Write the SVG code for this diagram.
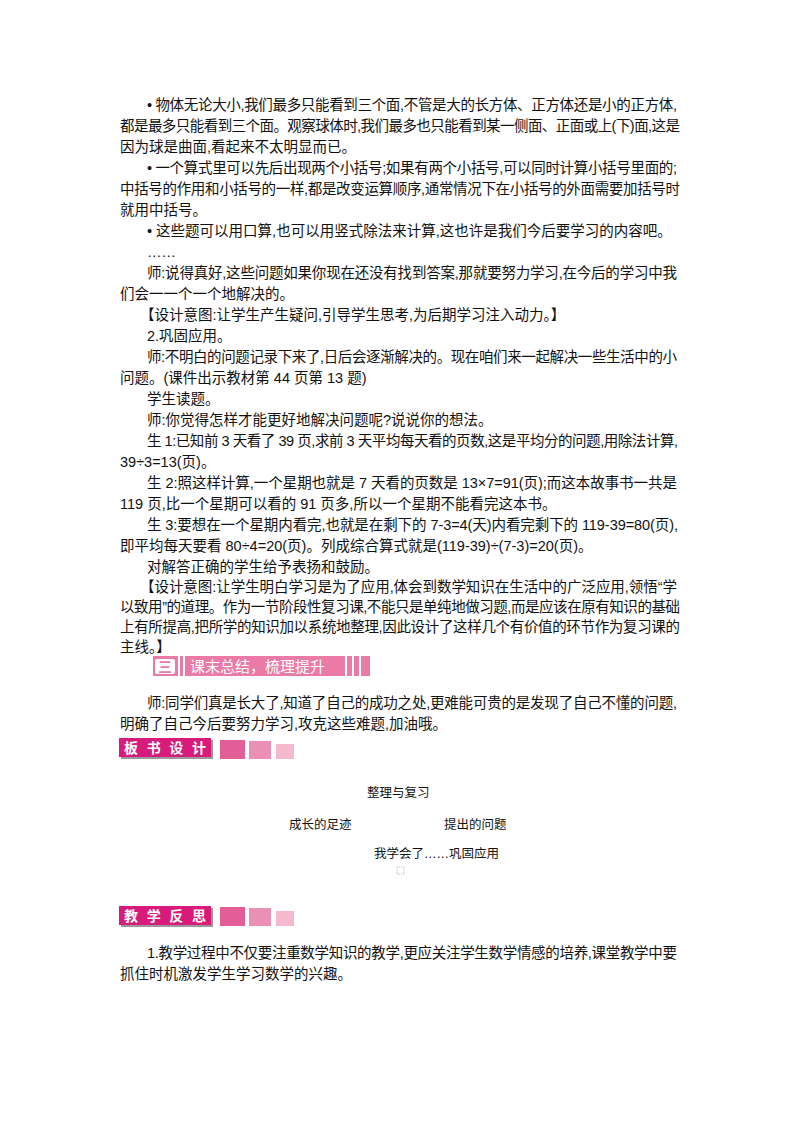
<svg xmlns="http://www.w3.org/2000/svg" width="800" height="1132" viewBox="0 0 800 1132">
<style>
text{font-family:"Liberation Sans","Noto Sans CJK SC",sans-serif;font-size:14.5px;fill:#111}
.s{font-size:12.5px}
.w{fill:#fff;font-size:15px}
.wb{fill:#fff;font-size:14px;font-weight:bold;font-family:"Noto Sans CJK SC",sans-serif}
</style>
<rect width="800" height="1132" fill="#fff"/>
<g id="body">
<text x="147" y="110" textLength="530" lengthAdjust="spacing">• 物体无论大小,我们最多只能看到三个面,不管是大的长方体、正方体还是小的正方体,</text>
<text x="120" y="131" textLength="560" lengthAdjust="spacing">都是最多只能看到三个面。观察球体时,我们最多也只能看到某一侧面、正面或上(下)面,这是</text>
<text x="120" y="152">因为球是曲面,看起来不太明显而已。</text>
<text x="147" y="173" textLength="530" lengthAdjust="spacing">• 一个算式里可以先后出现两个小括号;如果有两个小括号,可以同时计算小括号里面的;</text>
<text x="120" y="194" textLength="560" lengthAdjust="spacing">中括号的作用和小括号的一样,都是改变运算顺序,通常情况下在小括号的外面需要加括号时</text>
<text x="120" y="215">就用中括号。</text>
<text x="147" y="236">• 这些题可以用口算,也可以用竖式除法来计算,这也许是我们今后要学习的内容吧。</text>
<text x="147" y="257">……</text>
<text x="147" y="278" textLength="530" lengthAdjust="spacing">师:说得真好,这些问题如果你现在还没有找到答案,那就要努力学习,在今后的学习中我</text>
<text x="120" y="299">们会一一个一个地解决的。</text>
<text x="140" y="320">【设计意图:让学生产生疑问,引导学生思考,为后期学习注入动力。】</text>
<text x="147" y="341">2.巩固应用。</text>
<text x="147" y="362" textLength="530" lengthAdjust="spacing">师:不明白的问题记录下来了,日后会逐渐解决的。现在咱们来一起解决一些生活中的小</text>
<text x="120" y="383">问题。(课件出示教材第 44 页第 13 题)</text>
<text x="147" y="404">学生读题。</text>
<text x="147" y="425">师:你觉得怎样才能更好地解决问题呢?说说你的想法。</text>
<text x="147" y="446" textLength="531" lengthAdjust="spacing">生 1:已知前 3 天看了 39 页,求前 3 天平均每天看的页数,这是平均分的问题,用除法计算,</text>
<text x="120" y="467">39÷3=13(页)。</text>
<text x="147" y="488" textLength="530" lengthAdjust="spacing">生 2:照这样计算,一个星期也就是 7 天看的页数是 13×7=91(页);而这本故事书一共是</text>
<text x="120" y="509">119 页,比一个星期可以看的 91 页多,所以一个星期不能看完这本书。</text>
<text x="147" y="530" textLength="531" lengthAdjust="spacing">生 3:要想在一个星期内看完,也就是在剩下的 7-3=4(天)内看完剩下的 119-39=80(页),</text>
<text x="120" y="551">即平均每天要看 80÷4=20(页)。列成综合算式就是(119-39)÷(7-3)=20(页)。</text>
<text x="147" y="572">对解答正确的学生给予表扬和鼓励。</text>
<text x="140" y="592" textLength="537" lengthAdjust="spacing">【设计意图:让学生明白学习是为了应用,体会到数学知识在生活中的广泛应用,领悟“学</text>
<text x="120" y="612" textLength="560" lengthAdjust="spacing">以致用”的道理。作为一节阶段性复习课,不能只是单纯地做习题,而是应该在原有知识的基础</text>
<text x="120" y="632" textLength="560" lengthAdjust="spacing">上有所提高,把所学的知识加以系统地整理,因此设计了这样几个有价值的环节作为复习课的</text>
<text x="120" y="652">主线。】</text>
<text x="147" y="708" textLength="530" lengthAdjust="spacing">师:同学们真是长大了,知道了自己的成功之处,更难能可贵的是发现了自己不懂的问题,</text>
<text x="120" y="729">明确了自己今后要努力学习,攻克这些难题,加油哦。</text>
<text x="147" y="958" textLength="530" lengthAdjust="spacing">1.教学过程中不仅要注重数学知识的教学,更应关注学生数学情感的培养,课堂教学中要</text>
<text x="120" y="979">抓住时机激发学生学习数学的兴趣。</text>
</g>
<g id="banner3">
<rect x="153" y="656" width="217" height="20" fill="#ec7aa6"/>
<rect x="155" y="659" width="20" height="15" fill="#fff" rx="2"/>
<text x="158" y="672" style="fill:#ec7aa6;font-size:14px;font-weight:bold">三</text>
<rect x="178" y="656" width="2" height="20" fill="#fff"/>
<rect x="183" y="656" width="2" height="20" fill="#fff"/>
<text x="190" y="672" class="w">课末总结，梳理提升</text>
<rect x="345" y="656" width="2" height="20" fill="#fff"/>
<rect x="352" y="656" width="2" height="20" fill="#fff"/>
<rect x="359" y="656" width="2" height="20" fill="#fff"/>
</g>
<g id="banner-board">
<rect x="121" y="740" width="92" height="19" fill="#999"/>
<rect x="119" y="738" width="92" height="19" fill="#d81b7a"/>
<text x="124" y="753" class="wb" textLength="82">板书设计</text>
<rect x="220" y="740" width="25" height="19" fill="#e35d96"/>
<rect x="249" y="741" width="22" height="18" fill="#ec8fb4"/>
<rect x="276" y="744" width="18" height="15" fill="#f4b8cf"/>
</g>
<g id="board">
<text x="367" y="797" class="s">整理与复习</text>
<text x="289" y="829" class="s">成长的足迹</text>
<text x="444" y="829" class="s">提出的问题</text>
<text x="374" y="858" class="s">我学会了……巩固应用</text>
<rect x="397" y="867" width="7" height="7" fill="none" stroke="#aaa" stroke-width="0.8" stroke-dasharray="1,1"/>
</g>
<g id="banner-reflect">
<rect x="121" y="908" width="92" height="19" fill="#999"/>
<rect x="119" y="906" width="92" height="19" fill="#d81b7a"/>
<text x="124" y="921" class="wb" textLength="82">教学反思</text>
<rect x="220" y="907" width="25" height="19" fill="#e35d96"/>
<rect x="249" y="908" width="22" height="18" fill="#ec8fb4"/>
<rect x="276" y="911" width="18" height="15" fill="#f4b8cf"/>
</g>
</svg>
